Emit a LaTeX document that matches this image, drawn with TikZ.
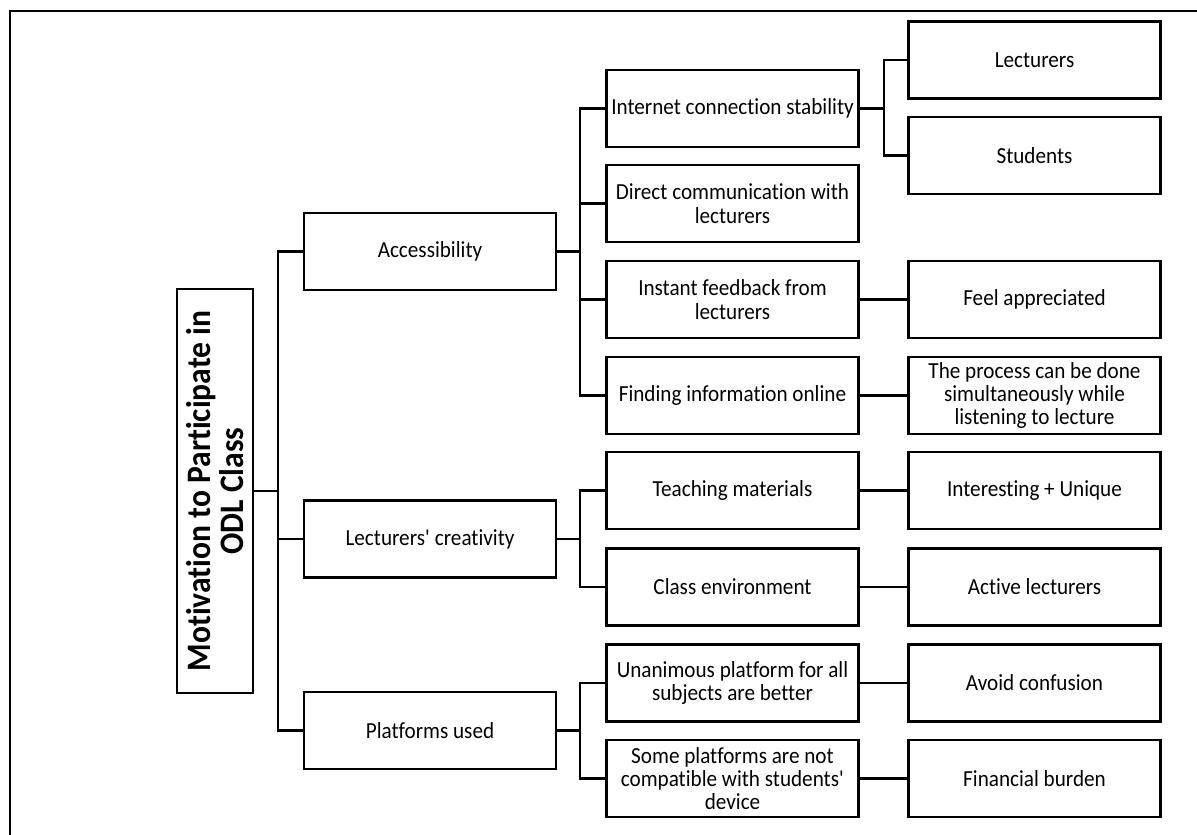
\documentclass[tikz,border=0pt]{standalone}
\usepackage{fontspec}
\setmainfont{Carlito}[FakeStretch=0.92,Ligatures={NoCommon}]
\begin{document}
\begin{tikzpicture}[x=1pt,y=-1pt,
  box/.style={draw, line width=2.6pt, minimum width=252pt, minimum height=77pt, inner sep=0pt, align=center,
    font=\fontsize{23}{23.3}\selectfont},
  conn/.style={line width=2.6pt},
  frame/.style={line width=2.4pt}]
\useasboundingbox (0,0) rectangle (1197,835);
% outer frame (top and left edges visible)
\draw[frame] (10,835) -- (10,11) -- (1197,11);

% root
\node[draw, line width=2.6pt, minimum width=76pt, minimum height=404pt, inner sep=0pt] (main) at (215,491) {};
\node[rotate=90, align=center, font=\bfseries\fontsize{34.3}{33}\selectfont] (title) at (main.center) {Motivation to Participate in\\ODL Class};

% level 1
\node[box] (acc) at (430,251.5) {Accessibility};
\node[box] (cre) at (430,539) {Lecturers\textquotesingle{} creativity};
\node[box] (plat) at (430,730.5) {Platforms used};

% level 2
\node[box] (int) at (732.5,108.5) {Internet connection stability};
\node[box] (dir) at (732.5,203.5) {Direct communication with\\lecturers};
\node[box] (ins) at (732.5,299.5) {Instant feedback from\\lecturers};
\node[box] (fin) at (732.5,395.5) {Finding information online};
\node[box] (tea) at (732.5,490.5) {Teaching materials};
\node[box] (cla) at (732.5,587) {Class environment};
\node[box] (una) at (732.5,683) {Unanimous platform for all\\subjects are better};
\node[box] (som) at (732.5,778.5) {Some platforms are not\\compatible with students\textquotesingle\\device};

% level 3
\node[box] (lec) at (1034.5,60) {Lecturers};
\node[box] (stu) at (1034.5,155.5) {Students};
\node[box] (fee) at (1034.5,299.5) {Feel appreciated};
\node[box] (pro) at (1034.5,395.5) {The process can be done\\simultaneously while\\listening to lecture};
\node[box] (intu) at (1034.5,490.5) {Interesting + Unique};
\node[box] (act) at (1034.5,587) {Active lecturers};
\node[box] (avo) at (1034.5,683) {Avoid confusion};
\node[box] (finb) at (1034.5,778.5) {Financial burden};

% connectors root -> level 1
\coordinate (t0) at (278,491);
\draw[conn] (main.east) -- (t0);
\draw[conn] (t0) |- (acc.west);
\draw[conn] (t0) |- (cre.west);
\draw[conn] (t0) |- (plat.west);

% accessibility -> level 2
\coordinate (ta) at (580,251.5);
\draw[conn] (acc.east) -- (ta);
\draw[conn] (ta) |- (int.west);
\draw[conn] (ta) |- (dir.west);
\draw[conn] (ta) |- (ins.west);
\draw[conn] (ta) |- (fin.west);

% creativity -> level 2
\coordinate (tc) at (580,539);
\draw[conn] (cre.east) -- (tc);
\draw[conn] (tc) |- (tea.west);
\draw[conn] (tc) |- (cla.west);

% platforms -> level 2
\coordinate (tp) at (580,730.5);
\draw[conn] (plat.east) -- (tp);
\draw[conn] (tp) |- (una.west);
\draw[conn] (tp) |- (som.west);

% internet -> lecturers/students
\coordinate (ti) at (884,108.5);
\draw[conn] (int.east) -- (ti);
\draw[conn] (ti) |- (lec.west);
\draw[conn] (ti) |- (stu.west);

% level 2 -> level 3
\draw[conn] (ins.east) -- (fee.west);
\draw[conn] (fin.east) -- (pro.west);
\draw[conn] (tea.east) -- (intu.west);
\draw[conn] (cla.east) -- (act.west);
\draw[conn] (una.east) -- (avo.west);
\draw[conn] (som.east) -- (finb.west);
\end{tikzpicture}
\end{document}
